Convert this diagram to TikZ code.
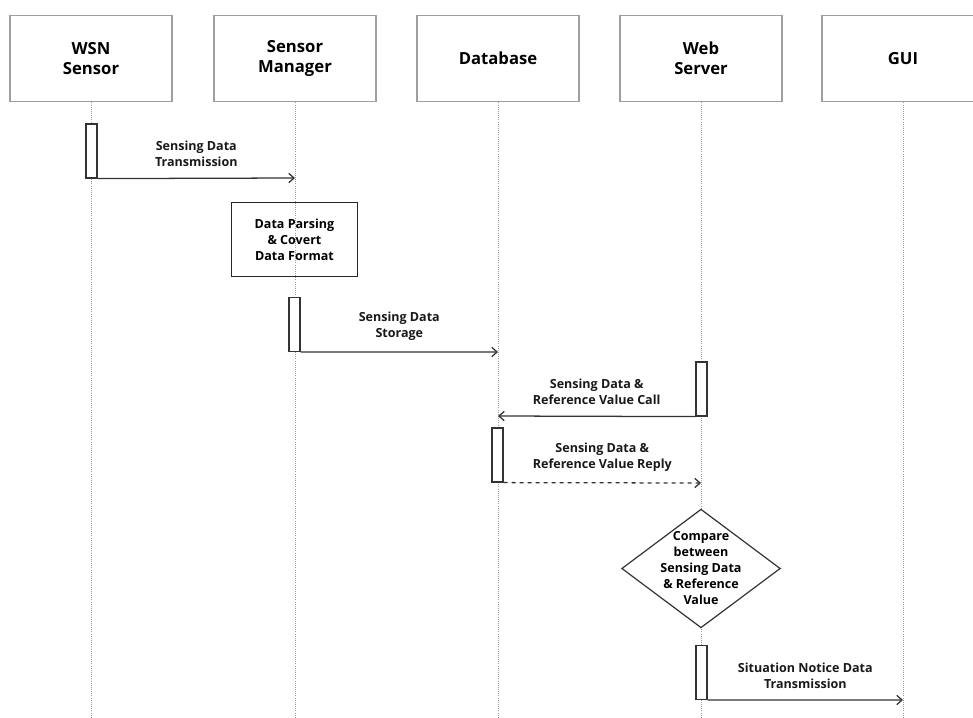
\documentclass[tikz,border=0pt]{standalone}
\usepackage{fontspec}
\setmainfont{Open Sans}
\usepackage{tikz}
\usetikzlibrary{positioning,shapes.geometric,arrows.meta}

\tikzset{
  head/.style={draw=gray!75, line width=0.8pt, minimum width=121.5pt, minimum height=65pt,
    align=center, inner sep=0pt, font=\bfseries\fontsize{12.5}{15}\selectfont},
  life/.style={densely dotted, gray!80, line width=0.6pt},
  actbar/.style={draw=black!80, fill=white, line width=0.9pt, minimum width=8.25pt,
    minimum height=40.5pt, inner sep=0pt},
  msg/.style={-{Straight Barb[length=4pt,width=7pt]}, line width=0.95pt, black!80},
  lbl/.style={align=center, font=\bfseries\fontsize{9.4}{12}\selectfont, text=black!90}
}

\begin{document}
\begin{tikzpicture}[x=0.75pt,y=-0.75pt]
                    \useasboundingbox (0,0) rectangle (973,717);

                    % Lifeline heads
                    \node[head] (wsn) at (91,58.5) {WSN\\Sensor};
                    \node[head] (mgr) at (295,58.5) {Sensor\\Manager};
                    \node[head] (db)  at (498,58.5) {Database};
                    \node[head] (web) at (701,58.5) {Web\\Server};
                    \node[head] (gui) at (903,58.5) {GUI};

                    % Lifelines
                    \foreach \h in {wsn,mgr,db,web,gui}
                      \draw[life] (\h.south) -- (\h.south |- 0,717);

                    % Sensing data transmission
                    \node[actbar] (act1) at (91.5,151) {};
                    \coordinate (m1) at (295,178);
                    \draw[msg] (act1.south east) -- (m1)
                      node[lbl, midway, above=5pt] {Sensing Data\\Transmission};

                    % Parsing step
                    \node[draw=black!85, line width=0.9pt, minimum width=94pt, minimum height=56pt,
                      align=center, inner sep=0pt, font=\bfseries\fontsize{9.4}{12}\selectfont]
                      (parse) at (294.5,239.5) {Data Parsing\\\& Covert\\Data Format};

                    % Sensing data storage
                    \node[actbar] (act2) at (294.5,324.5) {};
                    \coordinate (m2) at (498,352);
                    \draw[msg] (act2.south east) -- (m2)
                      node[lbl, midway, above=5pt] {Sensing Data\\Storage};

                    % Call from the web server
                    \node[actbar] (act3) at (701.5,389) {};
                    \coordinate (m3) at (498,416);
                    \draw[msg] (act3.south west) -- (m3)
                      node[lbl, midway, above=5pt] {Sensing Data \&\\Reference Value Call};

                    % Reply from the database
                    \node[actbar] (act4) at (497.5,455) {};
                    \coordinate (m4) at (701,483);
                    \draw[msg, dashed] (act4.south east) -- (m4)
                      node[lbl, midway, above=5pt] {Sensing Data \&\\Reference Value Reply};

                    % Comparison
                    \node[diamond, draw=black!80, fill=white, line width=0.9pt, aspect=1.34,
                      minimum width=119pt, minimum height=89pt, inner sep=-4.5pt, align=center,
                      font=\bfseries\fontsize{9.4}{12}\selectfont]
                      (cmp) at (701,568.5) {Compare\\between\\Sensing Data\\\& Reference\\Value};

                    % Situation notice to the GUI
                    \node[actbar] (act5) at (701.5,672.5) {};
                    \coordinate (m5) at (903,700);
                    \draw[msg] (act5.south east) -- (m5)
                      node[lbl, midway, above=5pt] {Situation Notice Data\\Transmission};

                  \end{tikzpicture}
\end{document}
